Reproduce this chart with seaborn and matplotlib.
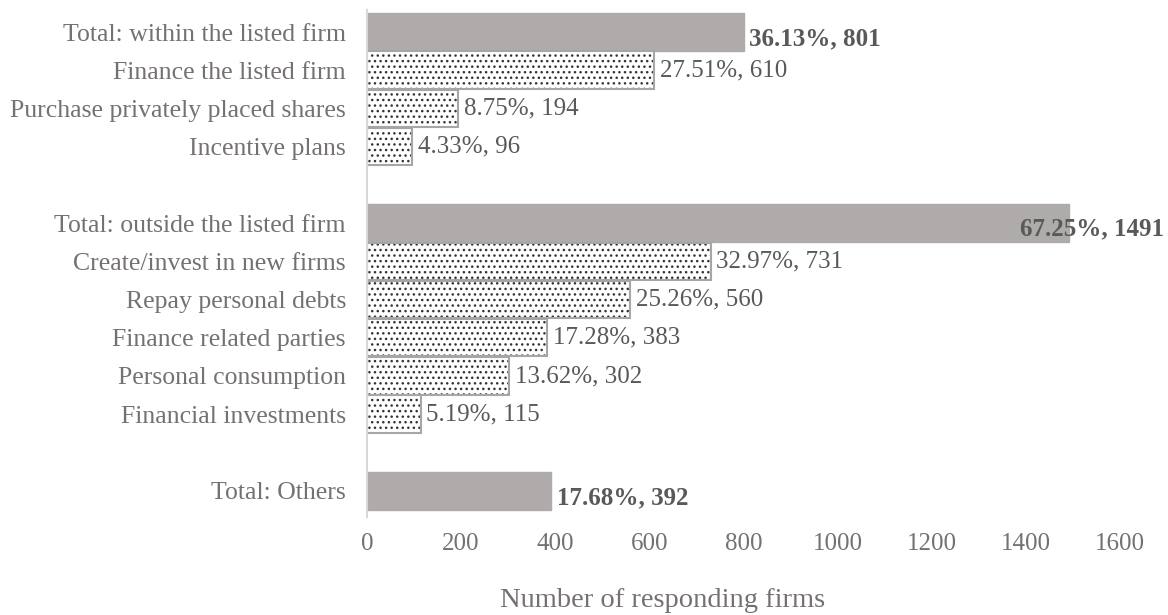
import matplotlib
matplotlib.use("Agg")
import matplotlib.pyplot as plt
import matplotlib.transforms as mtransforms
import seaborn as sns
import pandas as pd

categories = ["Total: within the listed firm", "Finance the listed firm",
              "Purchase privately placed shares", "Incentive plans",
              "Total: outside the listed firm", "Create/invest in new firms",
              "Repay personal debts", "Finance related parties",
              "Personal consumption", "Financial investments", "Total: Others"]
counts = [801, 610, 194, 96, 1491, 731, 560, 383, 302, 115, 392]
percents = ["36.13%", "27.51%", "8.75%", "4.33%", "67.25%", "32.97%",
            "25.26%", "17.28%", "13.62%", "5.19%", "17.68%"]
is_total = [True, False, False, False, True, False, False, False, False, False, True]

order = categories[:4] + [" "] + categories[4:10] + ["  "] + categories[10:]

sns.set_theme(style="white")
plt.rcParams["font.family"] = ["Liberation Serif", "DejaVu Serif"]
plt.rcParams["hatch.linewidth"] = 1.0

df = pd.DataFrame({"cat": categories, "n": counts, "total": is_total})
tot = df[df.total]
sub = df[~df.total]

fig = plt.figure(figsize=(11.68, 6.15), dpi=100)
ax = fig.add_axes([0.314, 0.160, 0.645, 0.824])

GRAY = "#AFABAB"
TXT = "#595959"
LBL = "#767171"

sns.barplot(data=tot, y="cat", x="n", order=order, color=GRAY, width=1.0,
            saturation=1, ax=ax, edgecolor=GRAY, linewidth=1)
# dotted bars: hatch layer
sns.barplot(data=sub, y="cat", x="n", order=order, color="white", width=0.98,
            saturation=1, ax=ax, edgecolor="#333333", linewidth=0, hatch="...")
# outline layer
sns.barplot(data=sub, y="cat", x="n", order=order, fill=False, width=0.98,
            ax=ax, edgecolor="#A6A6A6", linewidth=1.5)

fig_x = mtransforms.blended_transform_factory(fig.transFigure, ax.transData)
xmax = 1600
for c, n, p, t in zip(categories, counts, percents, is_total):
    y = order.index(c)
    label = f"{p}, {n}"
    kw = dict(va="center", fontsize=18, color=TXT,
              fontweight="bold" if t else "normal")
    if n > 0.85 * xmax:
        ax.annotate(label, xy=(0.997, y), xycoords=fig_x, xytext=(0, -4),
                    textcoords="offset points", ha="right", **kw)
    else:
        ax.annotate(label, xy=(n, y), xytext=(4, -5 if t else 0),
                    textcoords="offset points", ha="left", **kw)

ax.set_xlim(0, xmax)
ax.set_ylim(12.68, -0.58)
ax.set_xticks(range(0, xmax + 1, 200))
ax.tick_params(axis="x", labelsize=18, labelcolor=LBL, length=0, pad=12)
ax.tick_params(axis="y", labelsize=18.5, labelcolor=LBL, length=0, pad=15)
ax.set_ylabel("")
ax.set_xlabel("Number of responding firms", fontsize=20.5, color=LBL)
ax.xaxis.set_label_coords(0.393, -0.14)
for s in ["top", "right", "bottom"]:
    ax.spines[s].set_visible(False)
ax.spines["left"].set_color("#D9D9D9")
ax.spines["left"].set_linewidth(1.5)

fig.savefig("out.png", dpi=100)
